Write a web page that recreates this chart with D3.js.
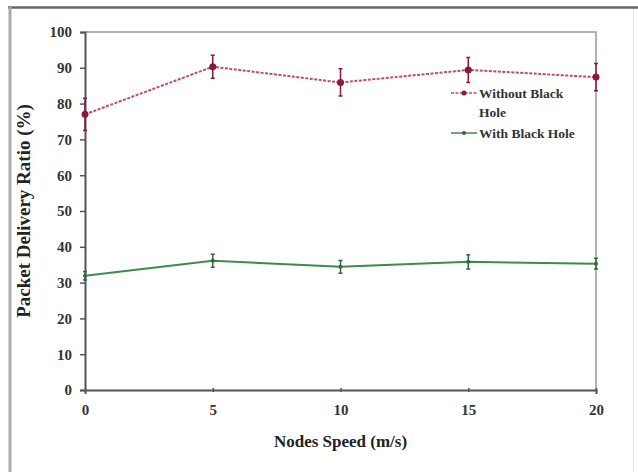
<!DOCTYPE html>
<head>
	<script src="https://d3js.org/d3.v7.min.js"></script>
	<style>
		body { margin: 0; background: #fff; }
	</style>
</head>
<body>
	<script>
		// data
		var speeds = [0, 5, 10, 15, 20];
		var without = [77.0, 90.3, 85.9, 89.4, 87.4];
		var withoutErr = [4.5, 3.2, 3.8, 3.5, 3.8];
		var withBH = [31.9, 36.1, 34.4, 35.8, 35.3];
		var withErr = [1.2, 1.8, 1.8, 2.0, 1.5];
		var yTicks = [0, 10, 20, 30, 40, 50, 60, 70, 80, 90, 100];
		var xTicks = [0, 5, 10, 15, 20];

		var width = 638, height = 472;
		var margin = { top: 32, right: 42, bottom: 82, left: 85 };
		var serif = "'Liberation Serif', 'Times New Roman', serif";

		var svg = d3.select("body").append("svg")
			.attr("width", width)
			.attr("height", height);

		// frame
		svg.append("line").attr("x1", 8).attr("x2", width).attr("y1", 7.5).attr("y2", 7.5)
			.attr("stroke", "#666").attr("stroke-width", 2.5);
		svg.append("line").attr("x1", 10).attr("x2", 10).attr("y1", 7).attr("y2", height)
			.attr("stroke", "#aaa").attr("stroke-width", 3);
		svg.append("line").attr("x1", 633.5).attr("x2", 633.5).attr("y1", 9).attr("y2", height)
			.attr("stroke", "#e4e4e4").attr("stroke-width", 1);

		var x = d3.scaleLinear().domain([0, 20]).range([margin.left, width - margin.right]);
		var y = d3.scaleLinear().domain([0, 100]).range([height - margin.bottom, margin.top]);

		// plot box top/right
		svg.append("path")
			.attr("d", "M" + x(0) + "," + y(100) + "H" + x(20) + "V" + y(0))
			.attr("fill", "none").attr("stroke", "#999").attr("stroke-width", 1.5);

		// axes
		var axisX = svg.append("g")
			.attr("transform", "translate(0," + y(0) + ")")
			.call(d3.axisBottom(x).tickValues(xTicks).tickSize(4).tickPadding(10));
		var axisY = svg.append("g")
			.attr("transform", "translate(" + x(0) + ",0)")
			.call(d3.axisLeft(y).tickValues(yTicks).tickSize(5).tickPadding(8));
		[axisX, axisY].forEach(function(a) {
			a.attr("font-family", serif).attr("font-size", 15).attr("font-weight", "bold");
			a.selectAll(".tick text").attr("fill", "#333");
			a.select(".domain").attr("stroke", "#555").attr("stroke-width", 2);
			a.selectAll(".tick line").attr("stroke", "#555").attr("stroke-width", 1.5);
		});
		axisX.selectAll(".tick line").attr("transform", "translate(0,-2)");

		// series
		function series(vals, errs, color, dash, r, dark) {
			var pts = speeds.map(function(s, i) { return [s, vals[i], errs[i]]; });
			var g = svg.append("g");
			g.append("path")
				.datum(pts)
				.attr("fill", "none")
				.attr("stroke", color)
				.attr("stroke-width", 2)
				.attr("stroke-dasharray", dash)
				.attr("d", d3.line().x(function(d) { return x(d[0]); }).y(function(d) { return y(d[1]); }));
			g.selectAll(".err").data(pts).enter().append("line")
				.attr("x1", function(d) { return x(d[0]); })
				.attr("x2", function(d) { return x(d[0]); })
				.attr("y1", function(d) { return y(d[1] - d[2]); })
				.attr("y2", function(d) { return y(d[1] + d[2]); })
				.attr("stroke", dark).attr("stroke-width", 1.5);
			g.selectAll(".cap").data(pts).enter().append("path")
				.attr("d", function(d) {
					var cx = x(d[0]);
					return "M" + (cx - 2) + "," + y(d[1] + d[2]) + "h4M" + (cx - 2) + "," + y(d[1] - d[2]) + "h4";
				})
				.attr("stroke", dark).attr("stroke-width", 1.5);
			g.selectAll("circle").data(pts).enter().append("circle")
				.attr("cx", function(d) { return x(d[0]); })
				.attr("cy", function(d) { return y(d[1]); })
				.attr("r", r)
				.attr("fill", dark);
		}
		series(without, withoutErr, "#c04a6a", "3,1.5", 3.5, "#8a1a3c");
		series(withBH, withErr, "#3f8a4f", null, 2, "#2f6a3c");

		// legend
		var lg = svg.append("g")
			.attr("font-family", serif).attr("font-size", 13.5).attr("font-weight", "bold").attr("fill", "#333");
		lg.append("line").attr("x1", 451).attr("x2", 477).attr("y1", 93).attr("y2", 93)
			.attr("stroke", "#c04a6a").attr("stroke-width", 1.5).attr("stroke-dasharray", "3,1.5");
		lg.append("circle").attr("cx", 464).attr("cy", 93).attr("r", 2.5).attr("fill", "#8a1a3c");
		lg.append("text").attr("x", 479).attr("y", 98).text("Without Black");
		lg.append("text").attr("x", 479).attr("y", 117).text("Hole");
		lg.append("line").attr("x1", 451).attr("x2", 477).attr("y1", 133).attr("y2", 133)
			.attr("stroke", "#3f8a4f").attr("stroke-width", 1.5);
		lg.append("circle").attr("cx", 464).attr("cy", 133).attr("r", 2).attr("fill", "#2f6a3c");
		lg.append("text").attr("x", 479).attr("y", 138).text("With Black Hole");

		// titles
		svg.append("text")
			.attr("font-family", serif).attr("font-size", 17).attr("font-weight", "bold").attr("fill", "#222")
			.attr("text-anchor", "middle")
			.attr("x", (x(0) + x(20)) / 2).attr("y", 447)
			.text("Nodes Speed (m/s)");
		svg.append("text")
			.attr("font-family", serif).attr("font-size", 19).attr("font-weight", "bold").attr("fill", "#222")
			.attr("text-anchor", "middle")
			.attr("transform", "translate(" + [30, (y(0) + y(100)) / 2] + ") rotate(-90)")
			.text("Packet Delivery Ratio (%)");
	</script>
</body>
</html>
